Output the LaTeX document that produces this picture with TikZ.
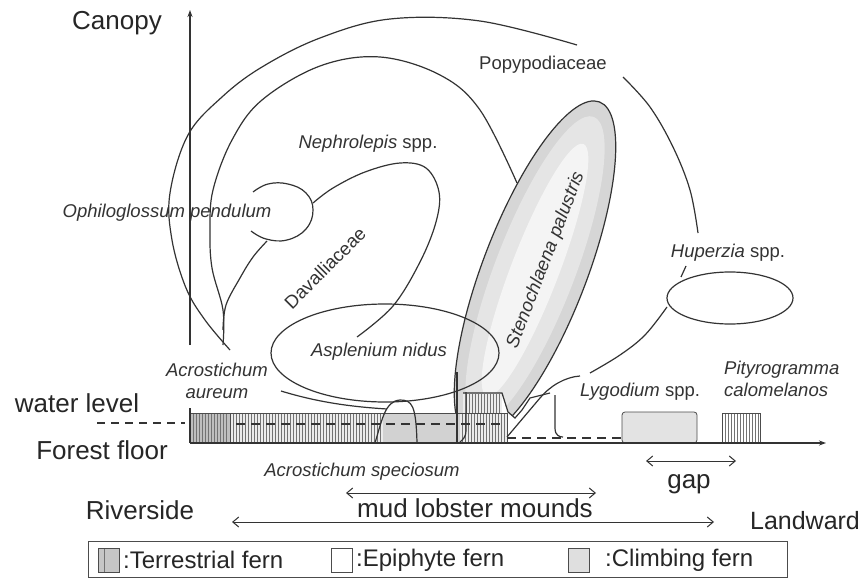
\documentclass[tikz,border=0pt]{standalone}
\usepackage{fontspec}
\setmainfont{Liberation Sans}
\usetikzlibrary{arrows.meta}
\tikzset{
  ln/.style={draw=black!80, line width=1.2pt},
  thin/.style={draw=black!70, line width=0.8pt},
  big/.style={font=\fontsize{26}{30}\selectfont, text=black!85, inner sep=0pt},
  sml/.style={font=\fontsize{18.5}{22}\selectfont\itshape, text=black!80, inner sep=0pt},
  smlup/.style={font=\fontsize{18.5}{22}\selectfont, text=black!80, inner sep=0pt},
  leg/.style={font=\fontsize{24}{28}\selectfont, text=black!85, inner sep=0pt, anchor=west},
  dbl/.style={ln, line width=1pt, {Straight Barb[length=6pt,width=10pt]}-{Straight Barb[length=6pt,width=10pt]}},
  hatch/.style={draw=black!55, line width=0.6pt},
}
\begin{document}
\begin{tikzpicture}[x=1pt,y=-1pt]
\useasboundingbox (0,0) rectangle (865,586);
\fill[white] (0,0) rectangle (865,586);

% Stenochlaena palustris (climbing fern)
\begin{scope}
\clip (430,0) -- (720,0) -- (720,393) -- (550,393) -- (530,398) -- (522,410) -- (515,418) -- (508,412) -- (502,393) -- (463,393) -- (463,450) -- (430,450) -- cycle;
\begin{scope}[rotate around={69:(535,270)}]
\fill[gray!32] (535,270) ellipse [x radius=180pt, y radius=52pt];
\fill[gray!20] (535,270) ellipse [x radius=164pt, y radius=40pt];
\fill[gray!9] (535,270) ellipse [x radius=135pt, y radius=24pt];
\draw[ln] (535,270) ellipse [x radius=180pt, y radius=52pt];
\end{scope}
\end{scope}

% outer arc (Popypodiaceae)
\draw[ln] plot[smooth, tension=0.6] coordinates {(230,350) (205,320) (186,288) (172,240) (170,193) (188,135) (222,97) (262,67) (320,38) (390,19) (480,21) (577,45)};
\draw[ln] plot[smooth, tension=0.6] coordinates {(623,77) (650,107) (673,147) (690,190) (698,233)};
\draw[ln] (686,266) -- (681,277);
\draw[ln] plot[smooth, tension=0.6] coordinates {(667,307) (645,335) (620,355) (590,373)};

% Nephrolepis arc
\draw[ln] plot[smooth, tension=0.6] coordinates {(223,345) (223,310) (212,268) (210,230) (213,190) (232,140) (262,100) (320,66) (380,57) (440,75) (480,110) (517,183)};

% Ophioglossum ellipse (open at left)
\draw[ln] plot[smooth, tension=0.7] coordinates {(253,192) (268,184) (288,184) (306,193) (313,210) (306,229) (287,240) (266,239) (251,231)};

% Davalliaceae
\draw[ln] plot[smooth, tension=0.6] coordinates {(313,203) (333,188) (365,172) (400,163) (426,168) (439,192) (436,222) (420,262) (393,306) (357,337)};
\draw[ln] plot[smooth, tension=0.6] coordinates {(223,330) (226,305) (240,278) (253,257) (267,241)};

% Asplenium nidus
\draw[ln] (385,353) ellipse [x radius=114pt, y radius=49pt];
\draw[ln] (281,391) .. controls (320,403) and (355,407) .. (387,409);

% Huperzia
\draw[ln] (730,298) ellipse [x radius=63pt, y radius=26pt];

% vertical axis
\draw[ln, -{Stealth[length=7pt,width=5pt]}] (190,345) -- (190,10);

% terrestrial boxes
\fill[gray!50] (190,413) rectangle (230,443);
\foreach \x in {193,196,...,228} \draw[hatch] (\x,414) -- (\x,442);
\fill[gray!15] (230,413) rectangle (507,443);
\foreach \x in {233,236,...,382} \draw[hatch] (\x,414) -- (\x,442);
\fill[gray!35] (383,413) rectangle (460,443);
\foreach \x in {462,465,...,505} \draw[hatch] (\x,414) -- (\x,442);
\fill[gray!15] (463,393) rectangle (502,413);
\foreach \x in {466,469,...,500} \draw[hatch] (\x,394) -- (\x,413);
\draw[thin] (190,413) rectangle (507,443);
\draw[thin] (230,413) -- (230,443);

% Lygodium box (climbing)
\filldraw[fill=gray!22, thin, rounded corners=3pt] (622,412) rectangle (697,443);
% Pityrogramma box (terrestrial)
\fill[white] (722,413) rectangle (760,443);
\foreach \x in {725,728,...,758} \draw[hatch] (\x,414) -- (\x,442);
\draw[thin] (722,413) rectangle (760,443);

% forest floor
\draw[ln, -{Stealth[length=7pt,width=5pt]}] (190,443) -- (826,443);
\draw[ln] (190,408) -- (190,443);

% water level
\draw[ln, dash pattern=on 8pt off 6pt] (97,423) -- (185,423);
\draw[ln, dash pattern=on 9pt off 6pt] (236,424) -- (505,424);
\draw[ln, dash pattern=on 9pt off 6pt] (507,438) -- (621,438);

% mud lobster mound and Stenochlaena base
\draw[ln] (375,443) .. controls (382,420) and (385,401) .. (400,400) .. controls (412,400) and (416,405) .. (417,443);
\draw[ln] (457,372) -- (457,443);
\draw[ln] (466,392) -- (466,430) .. controls (466,438) and (462,440) .. (460,442);
\draw[ln] (463,393) -- (502,393) -- (508,412) -- (515,418) -- (522,410) -- (530,398) -- (550,393);
\draw[ln] (555,395) -- (555,428) .. controls (555,436) and (560,437) .. (563,437);
\draw[ln] (507,437) -- (540,398) .. controls (550,386) and (565,377) .. (580,376);

% labels
\node[big] (canopy) at (117,23) {Canopy};
\node[smlup] (popy) at (543,65) {Popypodiaceae};
\node[sml] (neph) at (368,144) {Nephrolepis \upshape spp.};
\node[sml] (ophio) at (167,213) {Ophiloglossum pendulum};
\node[smlup, rotate=45] (daval) at (325,268) {Davalliaceae};
\node[sml, rotate=69] (steno) at (546,260) {Stenochlaena palustris};
\node[sml] (huper) at (728,253) {Huperzia \upshape spp.};
\node[sml] (asplen) at (379,352) {Asplenium nidus};
\node[sml, align=center] (acroa) at (217,381) {Acrostichum\\aureum};
\node[big] (water) at (77,403) {water level};
\node[big] (floor) at (102,450) {Forest floor};
\node[sml] (lygo) at (640,392) {Lygodium \upshape spp.};
\node[sml, align=left, anchor=west] (pityro) at (724,379) {Pityrogramma\\calomelanos};
\node[sml] (acros) at (362,472) {Acrostichum speciosum};
\node[big] (gaplbl) at (689,484) {gap};
\node[big] (mud) at (475,508) {mud lobster mounds};
\node[big] (river) at (140,510) {Riverside};
\node[big, font=\fontsize{25}{29}\selectfont] (land) at (805,521) {Landward};

% arrows
\coordinate (g1) at (646,461);
\coordinate (g2) at (736,461);
\coordinate (m1) at (346,493);
\coordinate (m2) at (596,493);
\coordinate (r1) at (232,522);
\coordinate (r2) at (714,522);
\draw[dbl] (g1) -- (g2);
\draw[dbl] (m1) -- (m2);
\draw[dbl] (r1) -- (r2);

% legend
\draw[thin] (88,541) rectangle (787,577);
\fill[gray!45] (98,548) rectangle (119,572);
\draw[hatch] (104,548) -- (104,572);
\draw[thin] (98,548) rectangle (119,572);
\node[leg] (lt) at (123,560) {:Terrestrial fern};
\draw[thin] (331,548) rectangle (352,572);
\node[leg] (le) at (356,560) {:Epiphyte fern};
\filldraw[fill=gray!25, thin] (568,548) rectangle (589,572);
\node[leg] (lc) at (605,560) {:Climbing fern};
\end{tikzpicture}
\end{document}
